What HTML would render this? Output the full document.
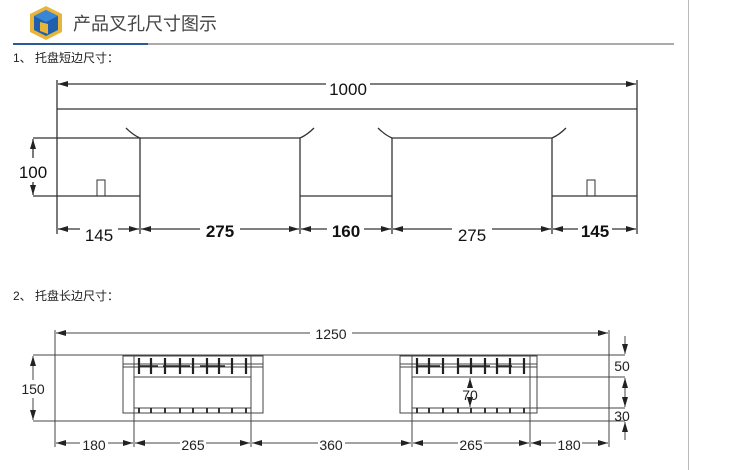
<!DOCTYPE html>
<html><head><meta charset="utf-8"><style>
html,body{margin:0;padding:0;background:#fff;width:730px;height:470px;overflow:hidden}
svg{display:block}
.t{font-family:"Liberation Sans","Noto Sans CJK SC",sans-serif}
</style></head><body>
<svg width="730" height="470" viewBox="0 0 730 470" xmlns="http://www.w3.org/2000/svg">
<defs>
<marker id="a" viewBox="0 0 10 6" refX="10" refY="3" markerWidth="10" markerHeight="6" markerUnits="userSpaceOnUse" orient="auto-start-reverse"><path d="M0,0 L10,3 L0,6z" fill="#222"/></marker>
</defs>
<line x1="688.5" y1="0" x2="688.5" y2="470" stroke="#bbb"/>
<!-- logo -->
<polygon points="46,6 62,14 62,32 46,40 30,32 30,14" fill="#e8b53a"/>
<polygon points="46,10 58,16 58,30 46,36 34,30 34,16" fill="#1f5fae"/>
<polygon points="46,10 58,16 46,22 34,16" fill="#3a86d6"/>
<polygon points="40,22 48,24 48,34 40,31" fill="#e8b53a"/>
<text x="73" y="30" class="t" font-size="18" fill="#444">产品叉孔尺寸图示</text>
<rect x="13" y="43" width="135" height="2" fill="#2a5a9a"/>
<rect x="148" y="43" width="526" height="2" fill="#aaa"/>
<text x="13" y="62" class="t" font-size="12" fill="#222">1、 托盘短边尺寸：</text>
<text x="13" y="300" class="t" font-size="12" fill="#222">2、 托盘长边尺寸：</text>

<g stroke="#333" stroke-width="1.3" fill="none">
<!-- top diagram -->
<line x1="57" y1="80" x2="57" y2="234"/>
<line x1="637" y1="80" x2="637" y2="234"/>
<line x1="58" y1="84" x2="326" y2="84" marker-start="url(#a)"/>
<line x1="370" y1="84" x2="636" y2="84" marker-end="url(#a)"/>
<line x1="57" y1="109" x2="637" y2="109"/>
<line x1="33" y1="138" x2="140" y2="138"/>
<line x1="140" y1="138" x2="300" y2="138"/>
<line x1="392" y1="138" x2="552" y2="138"/>
<path d="M126,128 Q133,135 140,138"/>
<path d="M314,128 Q307,135 300,138"/>
<path d="M378,128 Q385,135 392,138"/>
<path d="M566,128 Q559,135 552,138"/>
<line x1="140" y1="138" x2="140" y2="234"/>
<line x1="300" y1="138" x2="300" y2="234"/>
<line x1="392" y1="138" x2="392" y2="234"/>
<line x1="552" y1="138" x2="552" y2="234"/>
<line x1="33" y1="196" x2="140" y2="196"/>
<line x1="300" y1="196" x2="392" y2="196"/>
<line x1="552" y1="196" x2="637" y2="196"/>
<rect x="97" y="180" width="8" height="16" stroke-width="1"/>
<rect x="587" y="180" width="8" height="16" stroke-width="1"/>
<line x1="33" y1="139" x2="33" y2="158" marker-start="url(#a)"/>
<line x1="33" y1="182" x2="33" y2="195" marker-end="url(#a)"/>
<line x1="58" y1="229" x2="80" y2="229" marker-start="url(#a)"/>
<line x1="118" y1="229" x2="139" y2="229" marker-end="url(#a)"/>
<line x1="141" y1="229" x2="200" y2="229" marker-start="url(#a)"/>
<line x1="240" y1="229" x2="299" y2="229" marker-end="url(#a)"/>
<line x1="301" y1="229" x2="327" y2="229" marker-start="url(#a)"/>
<line x1="364" y1="229" x2="391" y2="229" marker-end="url(#a)"/>
<line x1="393" y1="229" x2="452" y2="229" marker-start="url(#a)"/>
<line x1="492" y1="229" x2="551" y2="229" marker-end="url(#a)"/>
<line x1="553" y1="229" x2="578" y2="229" marker-start="url(#a)"/>
<line x1="612" y1="229" x2="636" y2="229" marker-end="url(#a)"/>
</g>
<g class="t" fill="#111" text-anchor="middle">
<text x="348" y="95" font-size="17">1000</text>
<text x="33" y="178" font-size="17">100</text>
<text x="99" y="241" font-size="17">145</text>
<text x="220" y="237" font-size="17" font-weight="bold">275</text>
<text x="346" y="237" font-size="17" font-weight="bold">160</text>
<text x="472" y="241" font-size="17">275</text>
<text x="595" y="237" font-size="17" font-weight="bold">145</text>
</g>

<!-- bottom diagram -->
<g stroke="#444" stroke-width="1" fill="none">
<line x1="55" y1="330" x2="55" y2="447"/>
<line x1="609" y1="330" x2="609" y2="447"/>
<line x1="56" y1="333" x2="310" y2="333" marker-start="url(#a)"/>
<line x1="352" y1="333" x2="608" y2="333" marker-end="url(#a)"/>
<line x1="33" y1="355" x2="625" y2="355"/>
<line x1="33" y1="421" x2="625" y2="421"/>
<line x1="33" y1="356" x2="33" y2="380" marker-start="url(#a)"/>
<line x1="33" y1="398" x2="33" y2="420" marker-end="url(#a)"/>
<!-- left block -->
<rect x="123" y="356" width="140" height="57"/>
<line x1="123" y1="364" x2="263" y2="364"/>
<line x1="123" y1="367" x2="263" y2="367"/>
<rect x="134" y="377" width="117" height="31"/>
<line x1="134" y1="356" x2="134" y2="447"/>
<line x1="251" y1="356" x2="251" y2="447"/>
<!-- right block -->
<rect x="400" y="356" width="137" height="57"/>
<line x1="400" y1="364" x2="537" y2="364"/>
<line x1="400" y1="367" x2="537" y2="367"/>
<line x1="412" y1="377" x2="625" y2="377"/>
<line x1="412" y1="408" x2="625" y2="408"/>
<line x1="412" y1="356" x2="412" y2="447"/>
<line x1="530" y1="356" x2="530" y2="447"/>
<line x1="625" y1="336" x2="625" y2="354" marker-end="url(#a)"/>
<line x1="625" y1="395" x2="625" y2="378" marker-end="url(#a)"/>
<line x1="625" y1="391" x2="625" y2="407" marker-end="url(#a)"/>
<line x1="625" y1="440" x2="625" y2="422" marker-end="url(#a)"/>
<line x1="470" y1="386" x2="470" y2="378" marker-end="url(#a)"/>
<line x1="470" y1="398" x2="470" y2="407" marker-end="url(#a)"/>
<!-- bottom dims -->
<line x1="56" y1="443" x2="80" y2="443" marker-start="url(#a)"/>
<line x1="108" y1="443" x2="133" y2="443" marker-end="url(#a)"/>
<line x1="135" y1="443" x2="180" y2="443" marker-start="url(#a)"/>
<line x1="206" y1="443" x2="250" y2="443" marker-end="url(#a)"/>
<line x1="252" y1="443" x2="318" y2="443" marker-start="url(#a)"/>
<line x1="345" y1="443" x2="411" y2="443" marker-end="url(#a)"/>
<line x1="413" y1="443" x2="458" y2="443" marker-start="url(#a)"/>
<line x1="484" y1="443" x2="529" y2="443" marker-end="url(#a)"/>
<line x1="531" y1="443" x2="556" y2="443" marker-start="url(#a)"/>
<line x1="582" y1="443" x2="608" y2="443" marker-end="url(#a)"/>
</g>
<g stroke="#222" stroke-width="2.2">
<path d="M139,358V374M151,358V374M165,358V374M180,358V374M193,358V374M207,358V374M219,358V374M232,358V374M246,358V374"/>
<path d="M417,358V374M429,358V374M443,358V374M458,358V374M471,358V374M485,358V374M497,358V374M510,358V374M524,358V374"/>
<path d="M139,366H158M163,366H190M200,366H225M417,366H440M458,366H490M497,366H512" stroke-width="1.5"/>
<path d="M139,408V413M151,408V413M165,408V413M180,408V413M193,408V413M207,408V413M219,408V413M232,408V413M246,408V413" stroke-width="1.8"/>
<path d="M417,408V413M429,408V413M443,408V413M458,408V413M471,408V413M485,408V413M497,408V413M510,408V413M524,408V413" stroke-width="1.8"/>
</g>
<g class="t" fill="#222" text-anchor="middle" font-size="14">
<text x="331" y="339">1250</text>
<text x="33" y="394">150</text>
<text x="622" y="371">50</text>
<text x="622" y="421">30</text>
<text x="470" y="400">70</text>
<text x="94" y="450">180</text>
<text x="193" y="450">265</text>
<text x="331" y="450">360</text>
<text x="471" y="450">265</text>
<text x="569" y="450">180</text>
</g>
</svg>
</body></html>
